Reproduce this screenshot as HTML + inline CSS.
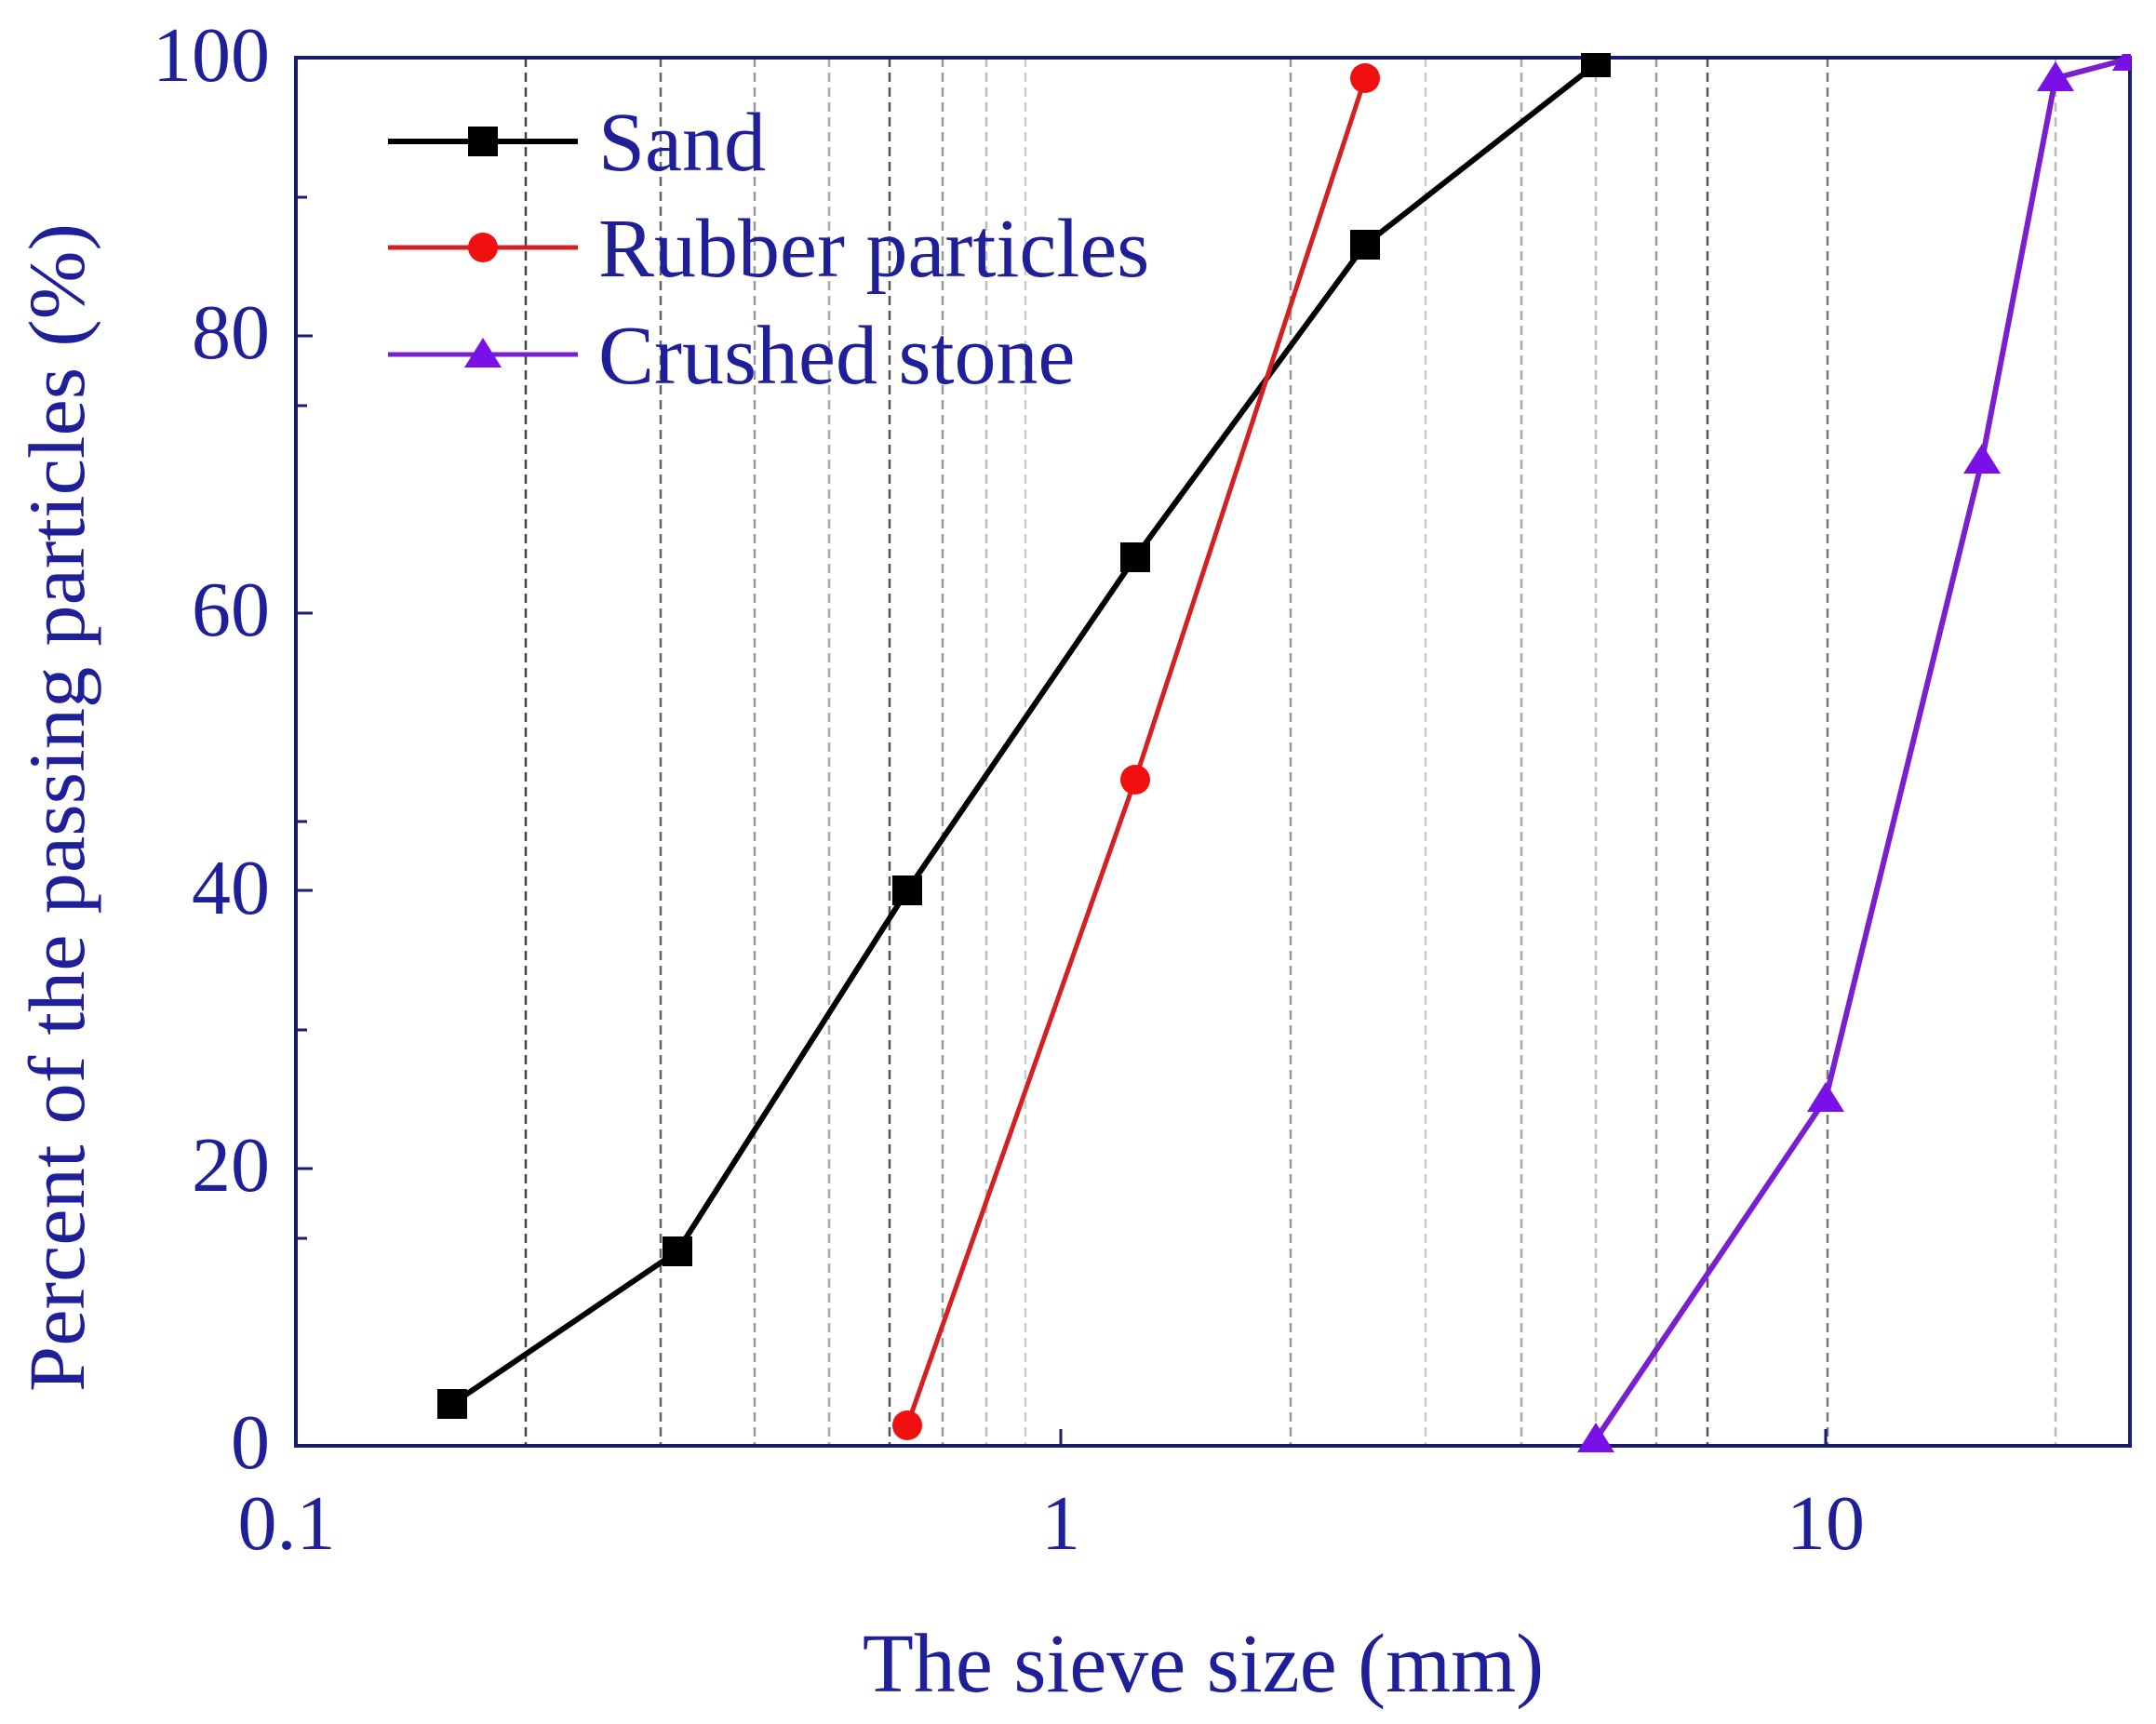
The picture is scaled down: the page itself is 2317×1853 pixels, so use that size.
<!DOCTYPE html>
<html><head><meta charset="utf-8"><style>html,body{margin:0;padding:0;background:#fff}svg{display:block}</style></head>
<body>
<svg width="2317" height="1853" viewBox="0 0 2317 1853" xmlns="http://www.w3.org/2000/svg" font-family="'Liberation Serif', serif">
<rect width="2317" height="1853" fill="#fff"/>
<g stroke-dasharray="10,6" stroke-width="2.5">
<line x1="565" y1="62" x2="565" y2="1554" stroke="#444"/>
<line x1="710" y1="62" x2="710" y2="1554" stroke="#666"/>
<line x1="811" y1="62" x2="811" y2="1554" stroke="#999"/>
<line x1="891" y1="62" x2="891" y2="1554" stroke="#aaa"/>
<line x1="956" y1="62" x2="956" y2="1554" stroke="#555"/>
<line x1="1013" y1="62" x2="1013" y2="1554" stroke="#999"/>
<line x1="1060" y1="62" x2="1060" y2="1554" stroke="#bbb"/>
<line x1="1102" y1="62" x2="1102" y2="1554" stroke="#ccc"/>
<line x1="1387" y1="62" x2="1387" y2="1554" stroke="#999"/>
<line x1="1532" y1="62" x2="1532" y2="1554" stroke="#ccc"/>
<line x1="1635" y1="62" x2="1635" y2="1554" stroke="#aaa"/>
<line x1="1715" y1="62" x2="1715" y2="1554" stroke="#bbb"/>
<line x1="1780" y1="62" x2="1780" y2="1554" stroke="#999"/>
<line x1="1835" y1="62" x2="1835" y2="1554" stroke="#555"/>
<line x1="1964" y1="62" x2="1964" y2="1554" stroke="#777"/>
<line x1="2209" y1="62" x2="2209" y2="1554" stroke="#bbb"/>
</g>
<g stroke="#1a1a6e" stroke-width="3">
<line x1="318" y1="1331" x2="330" y2="1331"/><line x1="318" y1="1107" x2="330" y2="1107"/>
<line x1="318" y1="883" x2="330" y2="883"/><line x1="318" y1="659" x2="330" y2="659"/>
<line x1="318" y1="436" x2="330" y2="436"/><line x1="318" y1="212" x2="330" y2="212"/>
<line x1="318" y1="1256" x2="336" y2="1256"/><line x1="318" y1="957" x2="336" y2="957"/>
<line x1="318" y1="659" x2="336" y2="659"/><line x1="318" y1="361" x2="336" y2="361"/>
<line x1="1140" y1="1554" x2="1140" y2="1536"/><line x1="1962" y1="1554" x2="1962" y2="1536"/>
</g>
<rect x="318" y="62" width="1971" height="1492" fill="none" stroke="#1a1a6e" stroke-width="4"/>
<polyline points="486,1509 728,1345 975,957 1220,599 1467,263 1715,69" fill="none" stroke="#000" stroke-width="6"/>
<g fill="#000">
<rect x="470" y="1493" width="32" height="32"/><rect x="712" y="1329" width="32" height="32"/>
<rect x="959" y="941" width="32" height="32"/><rect x="1204" y="583" width="32" height="32"/>
<rect x="1451" y="247" width="32" height="32"/><rect x="1699" y="57" width="32" height="26"/>
</g>
<polyline points="975,1532 1220,838 1467,84" fill="none" stroke="#d42020" stroke-width="5"/>
<g fill="#f01010"><circle cx="975" cy="1532" r="16"/><circle cx="1220" cy="838" r="16"/><circle cx="1467" cy="84" r="16"/></g>
<polyline points="1715,1547 1962,1181 2130,495 2209,84 2281,65" fill="none" stroke="#7a1fd0" stroke-width="6"/>
<g fill="#7a10e8">
<polygon points="1715,1529 1735,1561 1695,1561"/><polygon points="1962,1163 1982,1195 1942,1195"/>
<polygon points="2130,477 2150,509 2110,509"/><polygon points="2209,66 2229,98 2189,98"/>
<polygon points="2281,58 2290,58 2290,76 2270,76"/>
</g>
<line x1="417" y1="152" x2="621" y2="152" stroke="#000" stroke-width="6"/><rect x="503" y="136" width="32" height="32" fill="#000"/>
<line x1="417" y1="266" x2="621" y2="266" stroke="#d42020" stroke-width="5"/><circle cx="519" cy="266" r="16" fill="#f01010"/>
<line x1="417" y1="381" x2="621" y2="381" stroke="#7a1fd0" stroke-width="5"/><polygon points="519,363 539,395 499,395" fill="#7a10e8"/>
<g fill="#1f1f9a" font-size="90">
<text x="643" y="183">Sand</text>
<text x="643" y="297">Rubber particles</text>
<text x="643" y="412">Crushed stone</text>
</g>
<g fill="#1f1f9a" font-size="84" text-anchor="end">
<text x="290" y="1578">0</text><text x="290" y="1280">20</text><text x="290" y="982">40</text>
<text x="290" y="683">60</text><text x="290" y="385">80</text><text x="290" y="87">100</text>
</g>
<g fill="#1f1f9a" font-size="84" text-anchor="middle">
<text x="308" y="1665">0.1</text><text x="1140" y="1665">1</text><text x="1962" y="1665">10</text>
<text x="1293" y="1818" font-size="90">The sieve size (mm)</text>
</g>
<text transform="translate(90,868) rotate(-90)" text-anchor="middle" fill="#1f1f9a" font-size="86" textLength="1256" lengthAdjust="spacingAndGlyphs">Percent of the passing particles (%)</text>
</svg>
</body></html>
